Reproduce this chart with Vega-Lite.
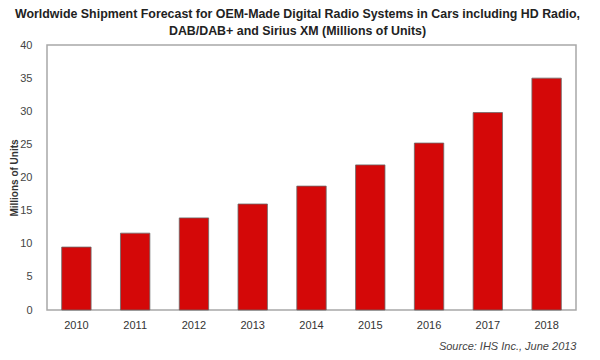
{
  "$schema": "https://vega.github.io/schema/vega-lite/v6.json",
  "autosize": "none",
  "width": 529,
  "height": 265,
  "padding": {"left": 47, "top": 45, "right": 24, "bottom": 51},
  "background": "white",
  "title": {
    "text": ["Worldwide Shipment Forecast for OEM-Made Digital Radio Systems in Cars including HD Radio,", "DAB/DAB+ and Sirius XM (Millions of Units)"],
    "font": "Liberation Sans",
    "fontSize": 12.4,
    "fontWeight": "bold",
    "color": "#222",
    "anchor": "middle",
    "frame": "group",
    "dx": -14,
    "offset": 2,
    "lineHeight": 17
  },
  "config": {
    "font": "Liberation Sans",
    "view": {"stroke": "#a8a8a8", "strokeWidth": 1.5}
  },
  "data": {
    "values": [
      {"year": "2010", "units": 9.5},
      {"year": "2011", "units": 11.6},
      {"year": "2012", "units": 13.9},
      {"year": "2013", "units": 16.0},
      {"year": "2014", "units": 18.7},
      {"year": "2015", "units": 21.9},
      {"year": "2016", "units": 25.2},
      {"year": "2017", "units": 29.8},
      {"year": "2018", "units": 35.0}
    ]
  },
  "mark": {"type": "bar", "color": "#d40808", "stroke": "#6a6a6a", "strokeWidth": 0.8},
  "encoding": {
    "x": {
      "field": "year",
      "type": "ordinal",
      "scale": {"paddingInner": 0.5, "paddingOuter": 0.25},
      "axis": {
        "title": "Source: IHS Inc., June 2013",
        "titleAnchor": "end",
        "titleFont": "Liberation Sans",
        "titleFontStyle": "italic",
        "titleFontWeight": "normal",
        "titleFontSize": 11,
        "titleColor": "#444",
        "titlePadding": 10,
        "labelAngle": 0,
        "labelFontSize": 11,
        "labelColor": "#333",
        "labelPadding": 9,
        "domain": false,
        "ticks": false
      }
    },
    "y": {
      "field": "units",
      "type": "quantitative",
      "scale": {"domain": [0, 40]},
      "axis": {
        "title": "Millions of Units",
        "titleFontSize": 10,
        "titleFontWeight": "bold",
        "titleColor": "#333",
        "titlePadding": 0,
        "values": [0, 5, 10, 15, 20, 25, 30, 35, 40],
        "labelFontSize": 11,
        "labelColor": "#444",
        "labelPadding": 15,
        "domain": false,
        "ticks": false,
        "grid": false
      }
    }
  }
}
